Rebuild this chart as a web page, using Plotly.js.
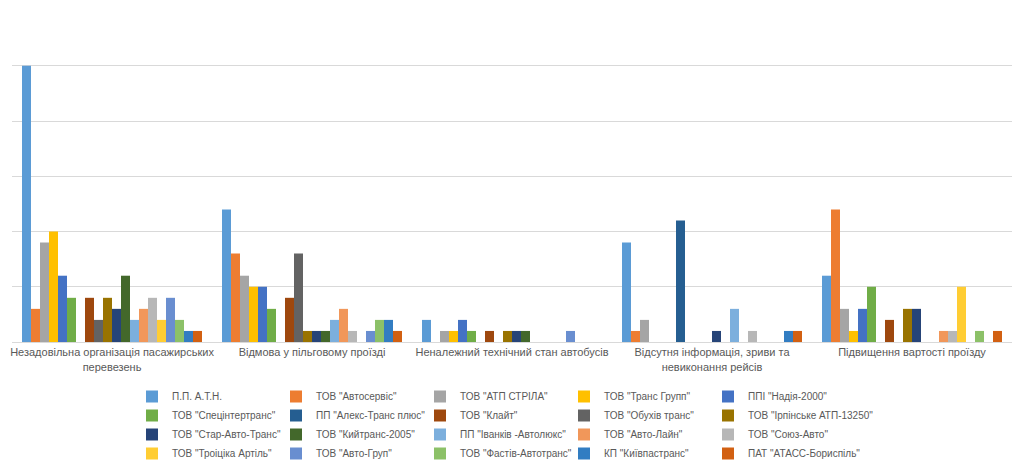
<!DOCTYPE html>
<html>
<head>
<meta charset="utf-8">
<script src="https://cdn.plot.ly/plotly-3.0.1.min.js"></script>
<style>html,body{margin:0;padding:0;background:#fff;}#chart{width:1024px;height:469px;}</style>
</head>
<body>
<div id="chart"></div>
<script>
const categories = [
  "Незадовільна організація пасажирських<br>перевезень",
  "Відмова у пільговому проїзді",
  "Неналежний технічний стан автобусів",
  "Відсутня інформація, зриви та<br>невиконання рейсів",
  "Підвищення вартості проїзду"
];
const seriesNames = [
  'П.П. А.Т.Н.',
  'ТОВ "Автосервіс"',
  'ТОВ "АТП СТРІЛА"',
  'ТОВ "Транс Групп"',
  'ППІ "Надія-2000"',
  'ТОВ "Спецінтертранс"',
  'ПП "Алекс-Транс плюс"',
  'ТОВ "Клайт"',
  'ТОВ "Обухів транс"',
  'ТОВ "Ірпінське АТП-13250"',
  'ТОВ "Стар-Авто-Транс"',
  'ТОВ "Кийтранс-2005"',
  'ПП "Іванків -Автолюкс"',
  'ТОВ "Авто-Лайн"',
  'ТОВ "Союз-Авто"',
  'ТОВ "Троіціка Артіль"',
  'ТОВ "Авто-Груп"',
  'ТОВ "Фастів-Автотранс"',
  'КП "Київпастранс"',
  'ПАТ "АТАСС-Бориспіль"'
];
// values per series across the 5 categories
const v_atn          = [25, 12, 2, 9, 6];
const v_avtoservis   = [3, 8, 0, 1, 12];
const v_atpStrila    = [9, 6, 1, 2, 3];
const v_transGrupp   = [10, 5, 1, 0, 1];
const v_nadia        = [6, 5, 2, 0, 3];
const v_specinter    = [4, 3, 1, 0, 5];
const v_aleks        = [0, 0, 0, 11, 0];
const v_klait        = [4, 4, 1, 0, 2];
const v_obukhiv      = [2, 8, 0, 0, 0];
const v_irpin        = [4, 1, 1, 0, 3];
const v_star         = [3, 1, 1, 1, 3];
const v_kyitrans     = [6, 1, 1, 0, 0];
const v_ivankiv      = [2, 2, 0, 3, 0];
const v_avtoLain     = [3, 3, 0, 0, 1];
const v_soiuz        = [4, 1, 0, 1, 1];
const v_troitska     = [2, 0, 0, 0, 5];
const v_avtoGrup     = [4, 1, 1, 0, 0];
const v_fastiv       = [2, 2, 0, 0, 1];
const v_kyivpas      = [1, 2, 0, 1, 0];
const v_atass        = [1, 1, 0, 1, 1];
const allValues = [v_atn, v_avtoservis, v_atpStrila, v_transGrupp, v_nadia, v_specinter,
  v_aleks, v_klait, v_obukhiv, v_irpin, v_star, v_kyitrans, v_ivankiv, v_avtoLain,
  v_soiuz, v_troitska, v_avtoGrup, v_fastiv, v_kyivpas, v_atass];
const colors = ['#5B9BD5','#ED7D31','#A5A5A5','#FFC000','#4472C4','#70AD47',
  '#255E91','#9E480E','#636363','#997300','#264478','#43682B',
  '#7CAFDD','#F1975A','#B7B7B7','#FFCD33','#698ED0','#8CC168','#327DC2','#D26012'];

// legend laid out as 5 columns (one vertical legend per column), reading row by row
const legendIds = ['legend', 'legend2', 'legend3', 'legend4', 'legend5'];
const traces = seriesNames.map((name, i) => ({
  type: 'bar',
  name: name,
  x: categories,
  y: allValues[i],
  legend: legendIds[i % 5],
  legendgroup: 'g' + i,
  marker: {color: colors[i], line: {width: 0}},
  hoverinfo: 'none'
}));

const colTextX = [172, 316, 460, 604, 748];
function legendCol(k) {
  return {
    orientation: 'v', xref: 'container', yref: 'container',
    x: (colTextX[k] - 40) / 1024, xanchor: 'left', y: 1 - 382 / 469, yanchor: 'top',
    traceorder: 'normal', tracegroupgap: 2,
    bgcolor: 'rgba(0,0,0,0)',
    font: {family: 'Liberation Sans, Arial, sans-serif', size: 10, color: '#595959'},
    itemclick: false, itemdoubleclick: false
  };
}

const layout = {
  width: 1024, height: 469,
  margin: {l: 12, r: 12, t: 10, b: 127, autoexpand: false},
  paper_bgcolor: '#fff', plot_bgcolor: '#fff',
  barmode: 'group', bargap: 0.1, bargroupgap: 0,
  showlegend: true,
  font: {family: 'Liberation Sans, Arial, sans-serif', size: 11, color: '#595959'},
  xaxis: {
    showgrid: false, showline: true, linecolor: '#d9d9d9', linewidth: 1,
    ticks: '', tickfont: {size: 11, color: '#595959'}, fixedrange: true
  },
  yaxis: {
    range: [0, 30.05], tick0: 0, dtick: 5, showticklabels: false, gridcolor: '#d9d9d9', gridwidth: 1,
    zeroline: false, ticks: '', fixedrange: true
  },
  legend: legendCol(0),
  legend2: legendCol(1),
  legend3: legendCol(2),
  legend4: legendCol(3),
  legend5: legendCol(4)
};
Plotly.newPlot('chart', traces, layout, {displayModeBar: false, staticPlot: true});
</script>
</body>
</html>
